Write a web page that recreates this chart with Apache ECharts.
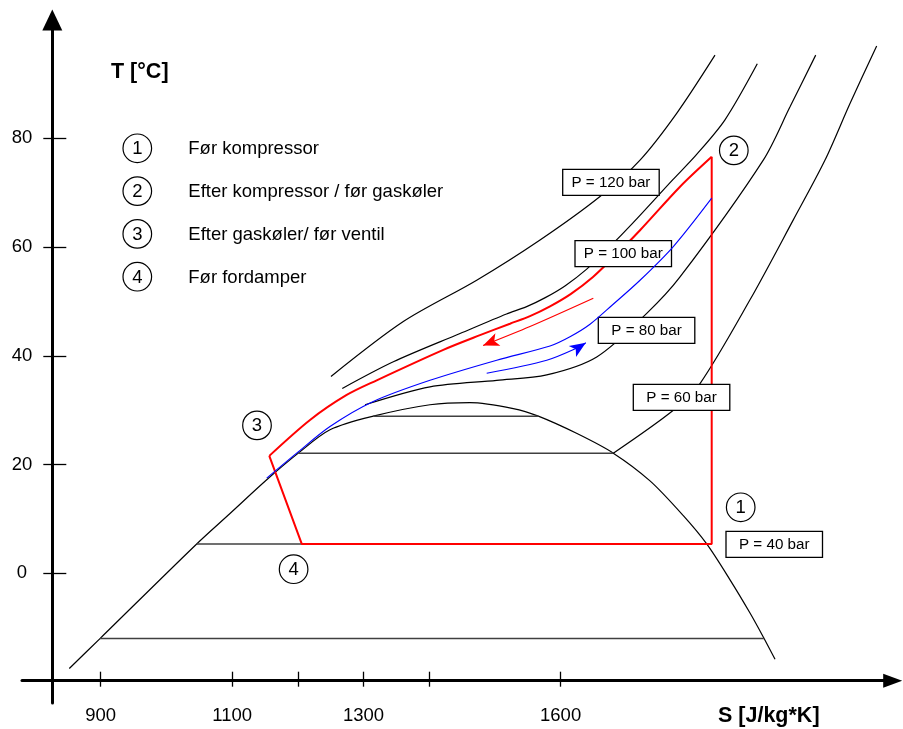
<!DOCTYPE html>
<html><head><meta charset="utf-8">
<script src="https://cdn.jsdelivr.net/npm/echarts@6/dist/echarts.min.js"></script>
<style>html,body{margin:0;padding:0;background:#fff}#c{width:903px;height:729px}</style>
</head><body><div id="c"></div>
<script>
// ---------- data (S in J/kg*K, T in °C) ----------
const xTicks = [900, 1100, 1200, 1300, 1400, 1600];
const xLabels = [900, 1100, 1300, 1600];
const yTicks = [0, 20, 40, 60, 80];

const domeS = [852.2, 898.9, 1046.1, 1096.8, 1152.7, 1200.8, 1249, 1314.9, 1401.2, 1462.1, 1528.0, 1566.1, 1625.0, 1680.2, 1736.1, 1786.8, 1822.4, 1857.9, 1888.3, 1908.5, 1926.4];
const domeT = [-17.5, -12.0, 5.4, 11.0, 17.2, 22.1, 26.4, 28.9, 31.0, 31.4, 30.3, 28.9, 25.7, 22.1, 17.0, 10.6, 5.4, -1.2, -7.3, -11.7, -15.8];

const isoT  = [-12.0, 5.4, 22.1, 28.9];
const isoS0 = [898.9, 1046.1, 1200.8, 1314.9];
const isoS1 = [1910.0, 1822.4, 1680.2, 1566.1];

const p120S = [1250.5, 1360.6, 1472.3, 1568.7, 1660.0, 1720.9, 1776.7, 1835.0];
const p120T = [36.2, 46.3, 53.9, 61.3, 69.3, 76.0, 84.6, 95.3];
const p100S = [1267.7, 1345.4, 1446.9, 1517.7, 1547.5, 1576.7, 1607.2, 1639.3, 1672.0, 1709.8, 1770.9, 1806.1, 1850.2, 1899.4];
const p100T = [34.0, 38.9, 44.1, 47.7, 49.0, 50.7, 52.9, 55.9, 59.7, 64.4, 72.4, 76.9, 83.4, 93.7];
const p80S  = [1302.3, 1401.2, 1502.8, 1578.9, 1655.0, 1731.1, 1781.8, 1908.5, 1949.2, 1988.3];
const p80T  = [31.0, 34.3, 35.5, 36.5, 39.8, 47.8, 54.5, 76.0, 85.8, 95.3];
const p60S  = [1680.2, 1771.6, 1812.2, 1888.3, 1954.2, 2002.5, 2040.5, 2081.1];
const p60T  = [22.1, 30.0, 34.9, 50.3, 65.0, 76.0, 86.4, 97.0];

// cycle 3 -> 4 -> 1 -> 2 (straight parts)
const cycleS = [1156.6, 1206, 1830, 1830];
const cycleT = [21.6, 5.4, 5.4, 76.6];
// gas cooler 2 -> 3
const coolS = [1830, 1781.8, 1720.9, 1682.8, 1649.3, 1615.8, 1583.9, 1553.4, 1523, 1477.3, 1421.5, 1320.1, 1274.4, 1218.6, 1156.6];
const coolT = [76.6, 71.1, 63.1, 58.4, 54.5, 51.4, 49.1, 47.3, 45.9, 43.8, 41.1, 35.5, 32.8, 28.2, 21.6];
// blue curve
const blueS = [1152.7, 1198.3, 1249, 1314.9, 1401.2, 1502.8, 1583.9, 1614.3, 1644.8, 1678.3, 1720.9, 1771.6, 1830];
const blueT = [17.5, 22.1, 27.0, 31.6, 35.5, 39.2, 41.8, 43.5, 45.8, 49.3, 53.9, 60.1, 69.0];
// arrows (last point = arrowhead position)
const redArrS  = [1649.8, 1553.4, 1482.0];
const redArrT  = [50.6, 45.4, 41.9];
const blueArrS = [1487.5, 1578.9, 1629.5, 1638.4];
const blueArrT = [36.8, 39.2, 41.7, 42.4];

const legendNums  = ['1', '2', '3', '4'];
const legendTexts = ['Før kompressor', 'Efter kompressor / før gaskøler', 'Efter gaskøler/ før ventil', 'Før fordamper'];
const pressureLabels = ['P = 120 bar', 'P = 100 bar', 'P = 80 bar', 'P = 60 bar', 'P = 40 bar'];

// ---------- build ----------
const zip = (a, b) => a.map((v, i) => [v, b[i]]);
const FONT = '"Liberation Sans", Arial, Helvetica, sans-serif';
const FS = 18.5;

function lineSeries(data, color, width, smooth, z) {
  return { type: 'line', data, symbol: 'none', smooth: smooth, silent: true,
    lineStyle: { color, width }, z: z || 2, animation: false, clip: false };
}

const series = [];
series.push(lineSeries(zip(domeS, domeT), '#000', 1.2, 0.3));
isoT.forEach((t, i) => series.push(lineSeries([[isoS0[i], t], [isoS1[i], t]], '#404040', 1.5, false)));
[[p120S, p120T], [p100S, p100T], [p80S, p80T], [p60S, p60T]].forEach(([s, t]) =>
  series.push(lineSeries(zip(s, t), '#000', 1.2, 0.3)));
series.push(lineSeries(zip(cycleS, cycleT), '#ff0000', 2, false, 5));
series.push(lineSeries(zip(coolS, coolT), '#ff0000', 2, 0.3, 5));
series.push(lineSeries(zip(blueS, blueT), '#0000ff', 1.1, 0.3, 20));
series.push(lineSeries(zip(redArrS, redArrT), '#ff0000', 1.2, 0.3, 5));
series.push(lineSeries(zip(blueArrS, blueArrT), '#0000ff', 1.1, 0.3, 20));
function arrowHead(S, T, color, z) {
  const n = S.length;
  return { type: 'scatter', silent: true, symbol: 'arrow', symbolSize: [10, 16], symbolRotate: 0,
    z: z, animation: false, itemStyle: { color, opacity: 1 },
    data: [[S[n - 1], T[n - 1]]], _from: [S[n - 2], T[n - 2]] };
}
const arrowSeries = [arrowHead(redArrS, redArrT, '#ff0000', 6), arrowHead(blueArrS, blueArrT, '#0000ff', 21)];
arrowSeries.forEach(s => series.push(s));

const axisCommon = { type: 'value', min: 780.2, max: 2105.5, splitLine: { show: false } };
const yCommon = { type: 'value', min: -23.85, max: 101.76, splitLine: { show: false } };
const fmt = v => String(v);

const graphics = [];
graphics.push({ type: 'text', x: 111, y: 72, z: 30, style: { text: 'T [°C]', fontFamily: FONT, fontSize: 21.5, fontWeight: 'bold', fill: '#000', align: 'left', verticalAlign: 'middle' } });
graphics.push({ type: 'text', x: 718, y: 716, z: 30, style: { text: 'S [J/kg*K]', fontFamily: FONT, fontSize: 21.5, fontWeight: 'bold', fill: '#000', align: 'left', verticalAlign: 'middle' } });
legendNums.forEach((n, i) => {
  const cy = 148.3 + i * 42.8;
  graphics.push({ type: 'circle', z: 30, shape: { cx: 137.3, cy, r: 14.3 }, style: { fill: '#fff', stroke: '#000', lineWidth: 1.2 } });
  graphics.push({ type: 'text', z: 31, x: 137.3, y: cy + 1, style: { text: n, fontFamily: FONT, fontSize: FS, fill: '#000', align: 'center', verticalAlign: 'middle' } });
  graphics.push({ type: 'text', z: 31, x: 188.3, y: cy + 1, style: { text: legendTexts[i], fontFamily: FONT, fontSize: FS, fill: '#000', align: 'left', verticalAlign: 'middle' } });
});
const markerPos = [[740.7, 507.3], [733.8, 150.4], [257, 425.4], [293.6, 569.2]];
markerPos.forEach(([cx, cy], i) => {
  graphics.push({ type: 'circle', z: 30, shape: { cx, cy, r: 14.3 }, style: { fill: '#fff', stroke: '#000', lineWidth: 1.2 } });
  graphics.push({ type: 'text', z: 31, x: cx, y: cy + 1, style: { text: legendNums[i], fontFamily: FONT, fontSize: FS, fill: '#000', align: 'center', verticalAlign: 'middle' } });
});
const boxPos = [[562.7, 169.3], [575, 240.7], [598.3, 317.3], [633.3, 384.3], [726, 531.3]];
boxPos.forEach(([x, y], i) => {
  graphics.push({ type: 'rect', z: 10, shape: { x, y, width: 96.5, height: 26 }, style: { fill: '#fff', stroke: '#000', lineWidth: 1.3 } });
  graphics.push({ type: 'text', z: 11, x: x + 48.25, y: y + 13.5, style: { text: pressureLabels[i], fontFamily: FONT, fontSize: 15.2, fill: '#000', align: 'center', verticalAlign: 'middle' } });
});

const option = {
  animation: false,
  backgroundColor: '#fff',
  textStyle: { fontFamily: FONT },
  grid: { left: 22, top: 20, right: 10.3, bottom: 26, containLabel: false },
  xAxis: [
    Object.assign({}, axisCommon, { position: 'bottom', offset: -22.3,
      axisLine: { show: true, onZero: false, lineStyle: { color: '#000', width: 3 }, symbol: ['none', 'triangle'], symbolSize: [14, 19] },
      axisTick: { show: true, inside: true, length: 9, lineStyle: { color: '#000', width: 1.3 }, customValues: xTicks },
      axisLabel: { show: true, margin: 26, fontSize: FS, color: '#000', fontFamily: FONT, customValues: xLabels, formatter: fmt } }),
    Object.assign({}, axisCommon, { position: 'bottom', offset: -22.3,
      axisLine: { show: false, onZero: false },
      axisTick: { show: true, inside: false, length: 6, lineStyle: { color: '#000', width: 1.3 }, customValues: xTicks },
      axisLabel: { show: false } })
  ],
  yAxis: [
    Object.assign({}, yCommon, { position: 'left', offset: -30.3,
      axisLine: { show: true, onZero: false, lineStyle: { color: '#000', width: 3 }, symbol: ['none', 'triangle'], symbolSize: [20, 21] },
      axisTick: { show: true, inside: true, length: 14, lineStyle: { color: '#000', width: 1.3 }, customValues: yTicks },
      axisLabel: { show: true, margin: 30.3, align: 'center', fontSize: FS, color: '#000', fontFamily: FONT, customValues: yTicks, formatter: fmt } }),
    Object.assign({}, yCommon, { position: 'left', offset: -30.3,
      axisLine: { show: false, onZero: false },
      axisTick: { show: true, inside: false, length: 9, lineStyle: { color: '#000', width: 1.3 }, customValues: yTicks },
      axisLabel: { show: false } })
  ],
  series,
  graphic: { elements: graphics }
};

const chart = echarts.init(document.getElementById('c'), null, { renderer: 'canvas' });
chart.setOption(option);
// orient arrowheads along the last segment in pixel space
arrowSeries.forEach(s => {
  const p1 = chart.convertToPixel({ gridIndex: 0 }, s._from);
  const p2 = chart.convertToPixel({ gridIndex: 0 }, s.data[0]);
  const ang = Math.atan2(-(p2[1] - p1[1]), p2[0] - p1[0]) * 180 / Math.PI;
  s.symbolRotate = ang - 90;
});
chart.setOption({ series });
</script></body></html>
